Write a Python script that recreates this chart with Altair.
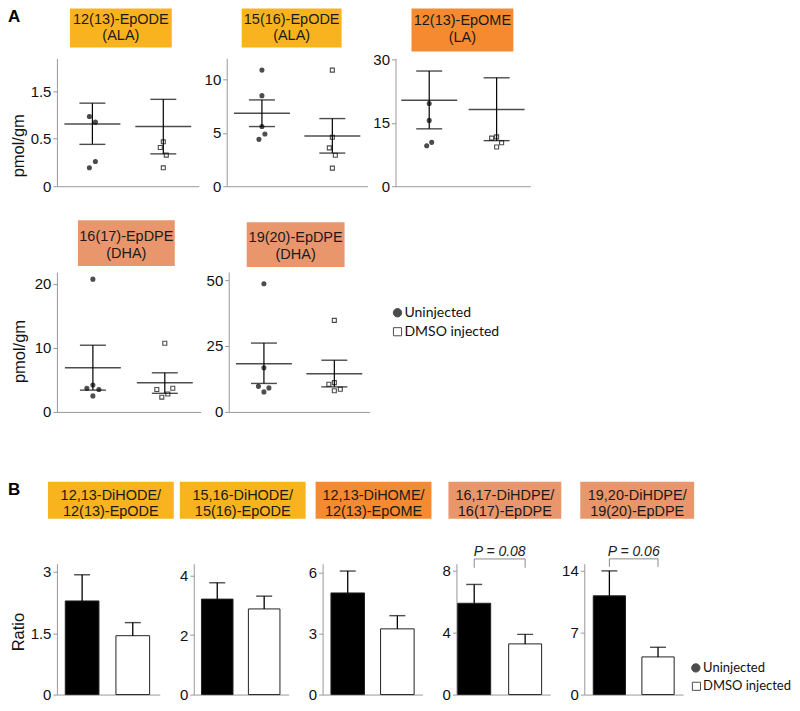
import altair as alt
import pandas as pd

# ---------------- data ----------------
groups = ["Uninjected", "DMSO injected"]
legend_labels = ["Uninjected", "DMSO injected"]

# Panel A (pmol/gm, individual animals + mean ± SEM)
a_titles = ["12(13)-EpODE\n(ALA)", "15(16)-EpODE\n(ALA)", "12(13)-EpOME\n(LA)",
            "16(17)-EpDPE\n(DHA)", "19(20)-EpDPE\n(DHA)"]
a_uninj_points = [[1.10, 1.01, 0.39, 0.29],
                  [10.9, 8.5, 5.6, 4.9, 4.4],
                  [19.6, 15.6, 10.4, 9.6],
                  [20.7, 4.2, 3.7, 3.5, 2.5],
                  [48.6, 16.7, 9.7, 9.1, 7.6]]
a_dmso_points = [[0.70, 0.61, 0.49, 0.29],
                 [10.9, 4.6, 3.6, 2.9, 1.7],
                 [11.7, 11.4, 10.3, 9.3],
                 [10.7, 3.5, 3.7, 2.3, 2.8],
                 [34.7, 10.5, 11.1, 8.0, 8.6]]
a_uninj_mean = [0.98, 6.85, 20.4, 6.9, 18.3]
a_uninj_hi = [1.31, 8.1, 27.3, 10.4, 26.1]
a_uninj_lo = [0.66, 5.6, 13.6, 3.4, 10.8]
a_dmso_mean = [0.94, 4.72, 18.2, 4.55, 14.5]
a_dmso_hi = [1.37, 6.35, 25.7, 6.1, 19.6]
a_dmso_lo = [0.51, 3.11, 10.8, 2.9, 9.5]
a_ticks = [[0, 0.75, 1.5], [0, 5, 10], [0, 15, 30], [0, 10, 20], [0, 25, 50]]
a_tick_labels = [["0", "0.5", "1.5"], ["0", "5", "10"], ["0", "15", "30"],
                 ["0", "10", "20"], ["0", "25", "50"]]
a_ymax = [2.016, 12.0, 30.3, 21.8, 53.0]
a_ytitles = ["pmol/gm", None, None, "pmol/gm", None]

# Panel B (ratios, mean + SEM)
b_titles = ["12,13-DiHODE/\n12(13)-EpODE", "15,16-DiHODE/\n15(16)-EpODE",
            "12,13-DiHOME/\n12(13)-EpOME", "16,17-DiHDPE/\n16(17)-EpDPE",
            "19,20-DiHDPE/\n19(20)-EpDPE"]
b_uninj_mean = [2.29, 3.21, 5.01, 5.91, 11.17]
b_uninj_err = [2.93, 3.76, 6.09, 7.13, 13.99]
b_dmso_mean = [1.44, 2.88, 3.24, 3.28, 4.26]
b_dmso_err = [1.76, 3.31, 3.89, 3.90, 5.35]
b_ticks = [[0, 1.5, 3], [0, 2, 4], [0, 3, 6], [0, 4, 8], [0, 7, 14]]
b_ymax = [3.2, 4.4, 6.45, 8.47, 14.8]
b_ytitles = ["Ratio", None, None, None, None]
b_pvalues = [None, None, None, "P = 0.08", "P = 0.06"]
b_bracket_top = [None, None, None, 8.78, 15.35]
b_bracket_drop = [None, None, None, 8.21, 14.45]
b_ptext_y = [None, None, None, 9.25, 16.15]

# ---------------- layout / style ----------------
FONT = "Liberation Sans"
LEG_FONT = "Lato"
AXC = "#999999"
ALA, LA, DHA = "#F8B31E", "#F68A31", "#E9966C"
a_colors = [ALA, ALA, LA, DHA, DHA]
b_colors = [ALA, ALA, LA, DHA, DHA]

A_W = [142, 141, 135, 144, 141]
A_H = [128, 128, 128, 140, 140]
A_BOX = [(13, 115, -50, -11), (15, 115, -50, -11), (16, 118, -50, -7),
         (21, 118, -52, -6), (18, 116, -50, -5)]
A_LINES = [(-38, -22.5), (-38, -22.5), (-37.5, -20.5), (-35, -18), (-34, -17)]
A_TITLEPOS = [(-38, 87), None, None, (-37, 79), None]
A_JIT_U = [[-3, 3, 3, -3], [0, 0, 0, 3, -3], [0, 0, 2.5, -2.5], [0, 0, -6, 6, 0], [0, 0, -5.5, 5, 0]]
A_JIT_D = [[0, -3, 3, 0], [0, 0, -3, 3, 0], [0, -5, 5, 0], [0, -8, 8, -3, 3], [0, -5.5, 0, 0, 6]]

B_W = [103, 95, 100, 94, 99]
B_H = 131
B_BOX = [(-9, 117, -82, -45), (-14, 112, -82, -45), (-7, 109, -82, -45),
         (-8, 105, -82, -45), (-4, 110, -82, -45)]
B_LINES = (-67.5, -51.5)
B_BAND = [(0.335, 0.183, 0.45), (0.328, 0.175, 0.47), (0.324, 0.168, 0.5),
          (0.353, 0.098, 0.13), (0.337, 0.185, 0.5)]
B_TITLEPOS = [(-38, 68), None, None, None, None]


def label_expr(ticks, labels):
    expr = "datum.label"
    for v, l in zip(reversed(ticks), reversed(labels)):
        expr = f"datum.value == {v} ? '{l}' : ({expr})"
    return expr


def y_axis(ticks, labels, title, tpos):
    kw = dict(values=ticks, labelExpr=label_expr(ticks, labels), domainColor=AXC,
              tickColor=AXC, tickSize=4, domainWidth=1, tickWidth=1, labelFont=FONT,
              labelFontSize=15, labelColor="#111111", labelPadding=2, labelFlush=False,
              labelOverlap=False, grid=False)
    if title:
        kw.update(title=title, titleFont=FONT, titleFontSize=16.5, titleFontWeight="normal",
                  titleColor="#111111", titleX=tpos[0], titleY=tpos[1],
                  titleBaseline="middle", titleAlign="center", titleAngle=270)
    else:
        kw["title"] = None
    return alt.Axis(**kw)


x_axis = alt.Axis(title=None, labels=False, ticks=False, domainColor=AXC, domainWidth=1, grid=False)


def box_layers(text, color, box, lines_y, fsize):
    x0, x1, y0, y1 = box
    df = pd.DataFrame({"label": [text]})
    out = [alt.Chart(df).mark_rect(color=color).encode(
        x=alt.value(x0), x2=alt.value(x1), y=alt.value(y0), y2=alt.value(y1))]
    for k, line in enumerate(text.split("\n")):
        ldf = pd.DataFrame({"label": [line]})
        out.append(alt.Chart(ldf).mark_text(font=FONT, fontSize=fsize, align="center",
                                            baseline="middle", color="#1a1a1a").encode(
            text="label:N", x=alt.value((x0 + x1) / 2), y=alt.value(lines_y[k])))
    return out


def legend_layers(xs, ys, xt, fsize):
    out = []
    shapes = ["circle", "square"]
    fills = ["black", "white"]
    sizes = [70, 66]
    for k, lab in enumerate(legend_labels):
        df = pd.DataFrame({"label": [lab]})
        out.append(alt.Chart(df).mark_point(filled=True, shape=shapes[k], fill=fills[k],
                                            stroke="black", strokeWidth=1, size=sizes[k]).encode(
            x=alt.value(xs[k]), y=alt.value(ys[k])))
        out.append(alt.Chart(df).mark_text(font=LEG_FONT, fontSize=fsize, align="left",
                                           baseline="middle", color="#111111").encode(
            text="label:N", x=alt.value(xt), y=alt.value(ys[k])))
    return out


def letter(ch, x, y):
    df = pd.DataFrame({"label": [ch]})
    return alt.Chart(df).mark_text(font=FONT, fontSize=17, fontWeight="bold", align="left",
                                   baseline="middle", color="black").encode(
        text="label:N", x=alt.value(x), y=alt.value(y))


shape_enc = alt.Shape("group:N", scale=alt.Scale(domain=groups, range=["circle", "square"]), legend=None)
fill_enc = alt.Fill("group:N", scale=alt.Scale(domain=groups, range=["black", "white"]), legend=None)


def scatter_panel(i):
    rows = []
    for g, pts, jit in ((groups[0], a_uninj_points[i], A_JIT_U[i]),
                        (groups[1], a_dmso_points[i], A_JIT_D[i])):
        for v, j in zip(pts, jit):
            rows.append({"group": g, "value": v, "jit": j})
    pdf = pd.DataFrame(rows)
    sdf = pd.DataFrame({"group": groups,
                        "mean": [a_uninj_mean[i], a_dmso_mean[i]],
                        "lo": [a_uninj_lo[i], a_dmso_lo[i]],
                        "hi": [a_uninj_hi[i], a_dmso_hi[i]]})
    xs = alt.X("group:N", sort=groups, scale=alt.Scale(type="point", padding=0.5), axis=x_axis)
    ysc = alt.Scale(domain=[0, a_ymax[i]], nice=False, zero=False)
    yax = y_axis(a_ticks[i], a_tick_labels[i], a_ytitles[i], A_TITLEPOS[i])

    pts = alt.Chart(pdf).mark_point(filled=True, size=16, stroke="black", strokeWidth=1.1).encode(
        x=xs, y=alt.Y("value:Q", scale=ysc, axis=yax),
        xOffset=alt.XOffset("jit:Q", scale=None), shape=shape_enc, fill=fill_enc)
    rule = alt.Chart(sdf).mark_rule(color="black", strokeWidth=1.2).encode(
        x=xs, y=alt.Y("lo:Q", scale=ysc, axis=yax), y2="hi:Q")
    mean = alt.Chart(sdf).mark_tick(size=56, thickness=1.5, color="black").encode(
        x=xs, y=alt.Y("mean:Q", scale=ysc, axis=yax))
    cap_hi = alt.Chart(sdf).mark_tick(size=26, thickness=1.4, color="black").encode(
        x=xs, y=alt.Y("hi:Q", scale=ysc, axis=yax))
    cap_lo = alt.Chart(sdf).mark_tick(size=26, thickness=1.4, color="black").encode(
        x=xs, y=alt.Y("lo:Q", scale=ysc, axis=yax))
    layers = box_layers(a_titles[i], a_colors[i], A_BOX[i], A_LINES[i], 14.5) + \
        [pts, rule, mean, cap_hi, cap_lo]
    if i == 0:
        layers.append(letter("A", -49, -41))
    if i == 4:
        layers += legend_layers([169, 169], [40.7, 59.7], 176, 14)
    return alt.layer(*layers).properties(width=A_W[i], height=A_H[i])


def bar_panel(i):
    W = B_W[i]
    pi, po, al = B_BAND[i]
    df = pd.DataFrame({"group": groups,
                       "mean": [b_uninj_mean[i], b_dmso_mean[i]],
                       "err": [b_uninj_err[i], b_dmso_err[i]]})
    xs = alt.X("group:N", sort=groups,
               scale=alt.Scale(type="band", paddingInner=pi, paddingOuter=po, align=al), axis=x_axis)
    ysc = alt.Scale(domain=[0, b_ymax[i]], nice=False, zero=False)
    yax = y_axis(b_ticks[i], [str(t) for t in b_ticks[i]], b_ytitles[i], B_TITLEPOS[i])

    bars = alt.Chart(df).mark_bar(stroke="#222222", strokeWidth=1).encode(
        x=xs, y=alt.Y("mean:Q", scale=ysc, axis=yax), fill=fill_enc)
    err = alt.Chart(df).mark_rule(color="black", strokeWidth=1.3).encode(
        x=xs, y=alt.Y("mean:Q", scale=ysc, axis=yax), y2="err:Q")
    cap = alt.Chart(df).mark_tick(size=16, thickness=1.4, color="black").encode(
        x=xs, y=alt.Y("err:Q", scale=ysc, axis=yax))
    layers = box_layers(b_titles[i], b_colors[i], B_BOX[i], B_LINES, 14.5) + [bars, err, cap]
    if b_pvalues[i]:
        br = pd.DataFrame({"group": [groups[0], groups[0], groups[1], groups[1]],
                           "y": [b_bracket_drop[i], b_bracket_top[i], b_bracket_top[i], b_bracket_drop[i]],
                           "ord": [0, 1, 2, 3]})
        layers.append(alt.Chart(br).mark_line(color="#8a8a8a", strokeWidth=1).encode(
            x=xs, y=alt.Y("y:Q", scale=ysc, axis=yax), order="ord:Q"))
        step = W / (2 - pi + 2 * po)
        start = (W - step * (2 - pi)) * al
        mid = start + step / 2 + step * (1 - pi) / 2
        pt = pd.DataFrame({"label": [b_pvalues[i]], "y": [b_ptext_y[i]]})
        layers.append(alt.Chart(pt).mark_text(font=FONT, fontSize=14, fontStyle="italic",
                                              align="center", baseline="middle", color="#222222").encode(
            text="label:N", x=alt.value(mid), y=alt.Y("y:Q", scale=ysc, axis=yax)))
    if i == 0:
        layers.append(letter("B", -49, -74))
    if i == 4:
        layers += legend_layers([111.7, 112.3], [104.3, 122.7], 119, 13)
    return alt.layer(*layers).properties(width=W, height=B_H)


def spacer(h):
    return alt.Chart(pd.DataFrame({"s": [0]})).mark_point(opacity=0, size=1).encode(
        x=alt.value(0), y=alt.value(0)).properties(width=1, height=h)


rowA1 = alt.hconcat(scatter_panel(0), scatter_panel(1), scatter_panel(2), spacing=28, bounds="flush")
rowA2 = alt.hconcat(scatter_panel(3), scatter_panel(4), spacing=28, bounds="flush")
rowB = alt.hconcat(*[bar_panel(i) for i in range(5)], spacing=34, bounds="flush")

# nested rows count as zero height in a flush layout, so the spacers carry the row heights
chart = alt.vconcat(rowA1, spacer(128 + 86), rowA2, spacer(140 + 152), rowB,
                    spacing=0, bounds="flush").properties(padding=0).configure(
    font=FONT, view=alt.ViewConfig(stroke=None))

chart.save("out.html", embed_options={"renderer": "svg", "actions": False})
